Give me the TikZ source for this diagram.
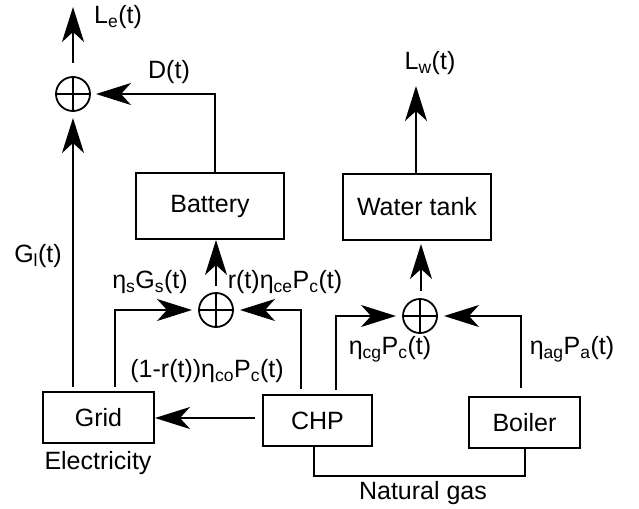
\documentclass[tikz,border=0pt]{standalone}
\usepackage{fontspec}
\setmainfont{Liberation Sans}
\usetikzlibrary{arrows.meta}
\newcommand\sbs[1]{\textsubscript{#1}}
\tikzset{
  blk/.style={draw, line width=2pt, inner sep=0pt, font=\fontsize{25}{30}\selectfont},
  lbl/.style={inner sep=0pt, font=\fontsize{25}{30}\selectfont},
  sumnode/.style={circle, draw, line width=1.8pt, minimum size=34pt, inner sep=0pt},
  conn/.style={line width=2pt, -{Stealth[length=35pt, width=22pt, inset=10pt]}},
  wire/.style={line width=2pt},
  plusline/.style={line width=1.5pt}
}
\begin{document}
\begin{tikzpicture}[x=1pt,y=-1pt]
\useasboundingbox (0,0) rectangle (639,508);
% boxes
\node[blk, minimum width=148pt, minimum height=66pt] (bat) at (210,206) {Battery};
\node[blk, minimum width=148pt, minimum height=66pt] (wt) at (417,207) {Water tank};
\node[blk, minimum width=111pt, minimum height=51pt] (grid) at (98.5,417.5) {Grid};
\node[blk, minimum width=109pt, minimum height=51pt] (chp) at (317.5,420.5) {CHP};
\node[blk, minimum width=111pt, minimum height=51pt] (boil) at (524.5,422.5) {Boiler};
% sum nodes
\node[sumnode] (s1) at (73,94) {};
\node[sumnode] (s2) at (216,310) {};
\node[sumnode] (s3) at (420,316) {};
\foreach \s in {s1,s2,s3}{
  \draw[plusline] (\s.north) -- (\s.south);
  \draw[plusline] (\s.west) -- (\s.east);
}
% labels
\node[lbl, anchor=west] (le) at (94,17) {L\sbs{e}(t)};
\node[lbl] (dt) at (169,72) {D(t)};
\node[lbl] (lw) at (430,63) {L\sbs{w}(t)};
\node[lbl] (gl) at (38,256) {G\sbs{l}(t)};
\node[lbl] (gs) at (150,282) {η\sbs{s}G\sbs{s}(t)};
\node[lbl] (rce) at (285,282) {r(t)η\sbs{ce}P\sbs{c}(t)};
\node[lbl] (rco) at (207,371) {(1-r(t))η\sbs{co}P\sbs{c}(t)};
\node[lbl] (cg) at (390,349) {η\sbs{cg}P\sbs{c}(t)};
\node[lbl] (ag) at (572,349) {η\sbs{ag}P\sbs{a}(t)};
\node[lbl] (elec) at (98,463) {Electricity};
\node[lbl] (ng) at (423,493) {Natural gas};
% coordinates
\coordinate (le0) at (73,63);
\coordinate (le1) at (73,7);
\coordinate (gl0) at (73,387);
\coordinate (s1b) at (73,118);
\coordinate (d0) at (215,94);
\coordinate (s1r) at (96,94);
\coordinate (s2u) at (216,286);
\coordinate (gs0) at (115,387);
\coordinate (gs1) at (115,310);
\coordinate (s2l) at (192,310);
\coordinate (ce0) at (301,389);
\coordinate (ce1) at (301,310);
\coordinate (s2r) at (240,310);
\coordinate (co0) at (255,418);
\coordinate (cg0) at (336,390);
\coordinate (cg1) at (336,316);
\coordinate (s3l) at (396,316);
\coordinate (ag0) at (521,388);
\coordinate (ag1) at (521,316);
\coordinate (s3r) at (444,316);
\coordinate (s3u) at (421,291);
\coordinate (wtb) at (421,244);
\coordinate (lw0) at (416,166);
\coordinate (lw1) at (416,86);
\coordinate (ng0) at (314,476);
\coordinate (ng1) at (525,476);
% connectors
\draw[conn] (le0) -- (le1);
\draw[conn] (gl0) -- (s1b);
\draw[conn] (bat.north -| d0) -- (d0) -- (s1r);
\draw[conn] (s2u) -- (bat.south -| s2u);
\draw[conn] (gs0) -- (gs1) -- (s2l);
\draw[conn] (ce0) -- (ce1) -- (s2r);
\draw[conn] (co0) -- (grid.east |- co0);
\draw[conn] (cg0) -- (cg1) -- (s3l);
\draw[conn] (ag0) -- (ag1) -- (s3r);
\draw[conn] (s3u) -- (wtb);
\draw[conn] (wt.north -| lw0) -- (lw1);
\draw[wire] (chp.south -| ng0) -- (ng0) -- (ng1) -- (boil.south -| ng1);
\end{tikzpicture}
\end{document}
